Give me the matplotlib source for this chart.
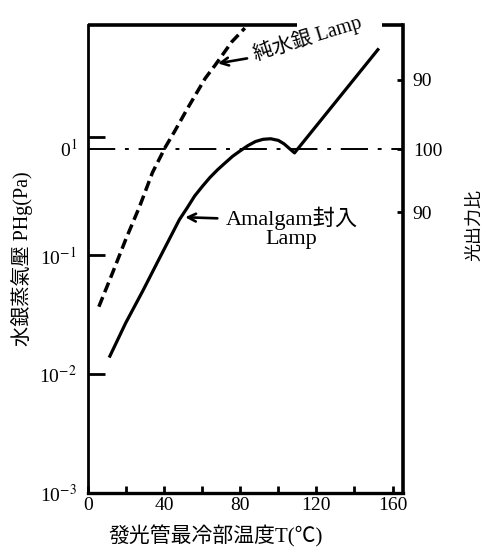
import matplotlib
matplotlib.use('Agg')
import matplotlib.pyplot as plt
from matplotlib.ticker import NullLocator

plt.rcParams['font.family'] = ['Liberation Serif', 'Noto Sans CJK JP']
plt.rcParams['mathtext.fontset'] = 'stix'

# pure mercury lamp: vapour pressure vs coldest spot temperature
pure_T = [5.7, 13.0, 19.8, 27.1, 33.9, 40.7, 45.4, 52.2, 61.6, 66.8, 75.6, 82.4]
pure_P = [0.037, 0.072, 0.136, 0.258, 0.50, 0.82, 1.10, 1.72, 3.1, 4.0, 6.3, 8.2]

# amalgam lamp
amal_T = [11.5, 19.8, 28.7, 37.6, 48.0, 52.0, 56.0, 60.0, 64.0, 68.0, 72.0, 76.0,
          80.0, 84.0, 88.0, 92.0, 96.0, 100.0, 103.0, 106.0, 108.5, 152.3]
amal_P = [0.0142, 0.027, 0.050, 0.095, 0.20, 0.25, 0.316, 0.38, 0.452, 0.525, 0.60,
          0.684, 0.76, 0.84, 0.91, 0.95, 0.96, 0.93, 0.87, 0.79, 0.73, 5.4]

x_ticks = [0, 40, 80, 120, 160]
x_minor = [20, 60, 100, 140]
y_ticks = [1e-3, 1e-2, 1e-1, 1e0]
y_labels = ['10$^{-3}$', '10$^{-2}$', '10$^{-1}$', '']
r_ticks = [1.1, 0, -1.0]
r_labels = ['90', '100', '90']

fig = plt.figure(figsize=(4.86, 5.52), dpi=100)
ax = fig.add_axes([88/486, 1-493/552, 315/486, 468/552])
ax.set_yscale('log')
ax.set_xlim(1.5, 165.5)
ax.set_ylim(1e-3, 10**0.94)

ax.plot(pure_T, pure_P, color='black', lw=2.5, dashes=(3.0, 1.5))
ax.plot(amal_T, amal_P, color='black', lw=2.3)

ax.set_xticks(x_ticks)
ax.set_xticks(x_minor, minor=True)
ax.set_yticks(y_ticks, y_labels)
ax.yaxis.set_minor_locator(NullLocator())
ax.tick_params(axis='x', which='both', direction='in', length=5, width=2,
               labelsize=14, pad=3)
ax.tick_params(axis='y', direction='in', length=12, width=2, labelsize=14, pad=8)

for s in ['top', 'right']:
    ax.spines[s].set_visible(False)
ax.spines['left'].set_linewidth(2.0)
ax.spines['bottom'].set_linewidth(2.4)

# broken top frame (gap for the label)
ax.plot([0, 0.663], [1, 1], transform=ax.transAxes, color='black', lw=2.6,
        clip_on=False, solid_capstyle='butt')
ax.plot([0.933, 1], [1, 1], transform=ax.transAxes, color='black', lw=2.6,
        clip_on=False, solid_capstyle='butt')

# right axis: relative light output
ax2 = ax.twinx()
ax2.set_ylim(-5.46, 1.97)
ax2.axhline(0, color='black', lw=1.4, dashes=(14, 5, 2, 5))
ax2.set_yticks(r_ticks, r_labels)
ax2.tick_params(direction='in', length=4, width=2, labelsize=14, pad=7)
for s in ['top', 'left', 'bottom']:
    ax2.spines[s].set_visible(False)
ax2.spines['right'].set_linewidth(2.6)
ax2.text(-0.035, 0, '0$^1$', transform=ax2.get_yaxis_transform(),
         ha='right', va='center', fontsize=14)

arrow = dict(arrowstyle='->', color='black', lw=1.9, mutation_scale=14)
ax.annotate('', xy=(66.8, 4.1), xytext=(85.0, 4.6), arrowprops=arrow)
ax.text(87.0, 4.9, '純水銀 Lamp', rotation=17, rotation_mode='anchor',
        ha='left', va='center', fontsize=14.5)
ax.annotate('', xy=(49.6, 0.21), xytext=(69.4, 0.205), arrowprops=arrow)
ax.text(107.0, 0.172, 'Amalgam封入\nLamp', ha='center', va='center',
        multialignment='center', fontsize=16, linespacing=1.0)

ax.set_ylabel('水銀蒸氣壓 PHg(Pa)', fontsize=14.5)
ax.yaxis.set_label_coords(-0.175, 0.5)
ax2.set_ylabel('光出力比', fontsize=13, rotation=90)
ax2.yaxis.set_label_coords(1.2, 0.573)
ax.set_xlabel('發光管最冷部温度T(℃)', fontsize=15)
ax.xaxis.set_label_coords(0.406, -0.07)

plt.savefig('out.png', dpi=100)
